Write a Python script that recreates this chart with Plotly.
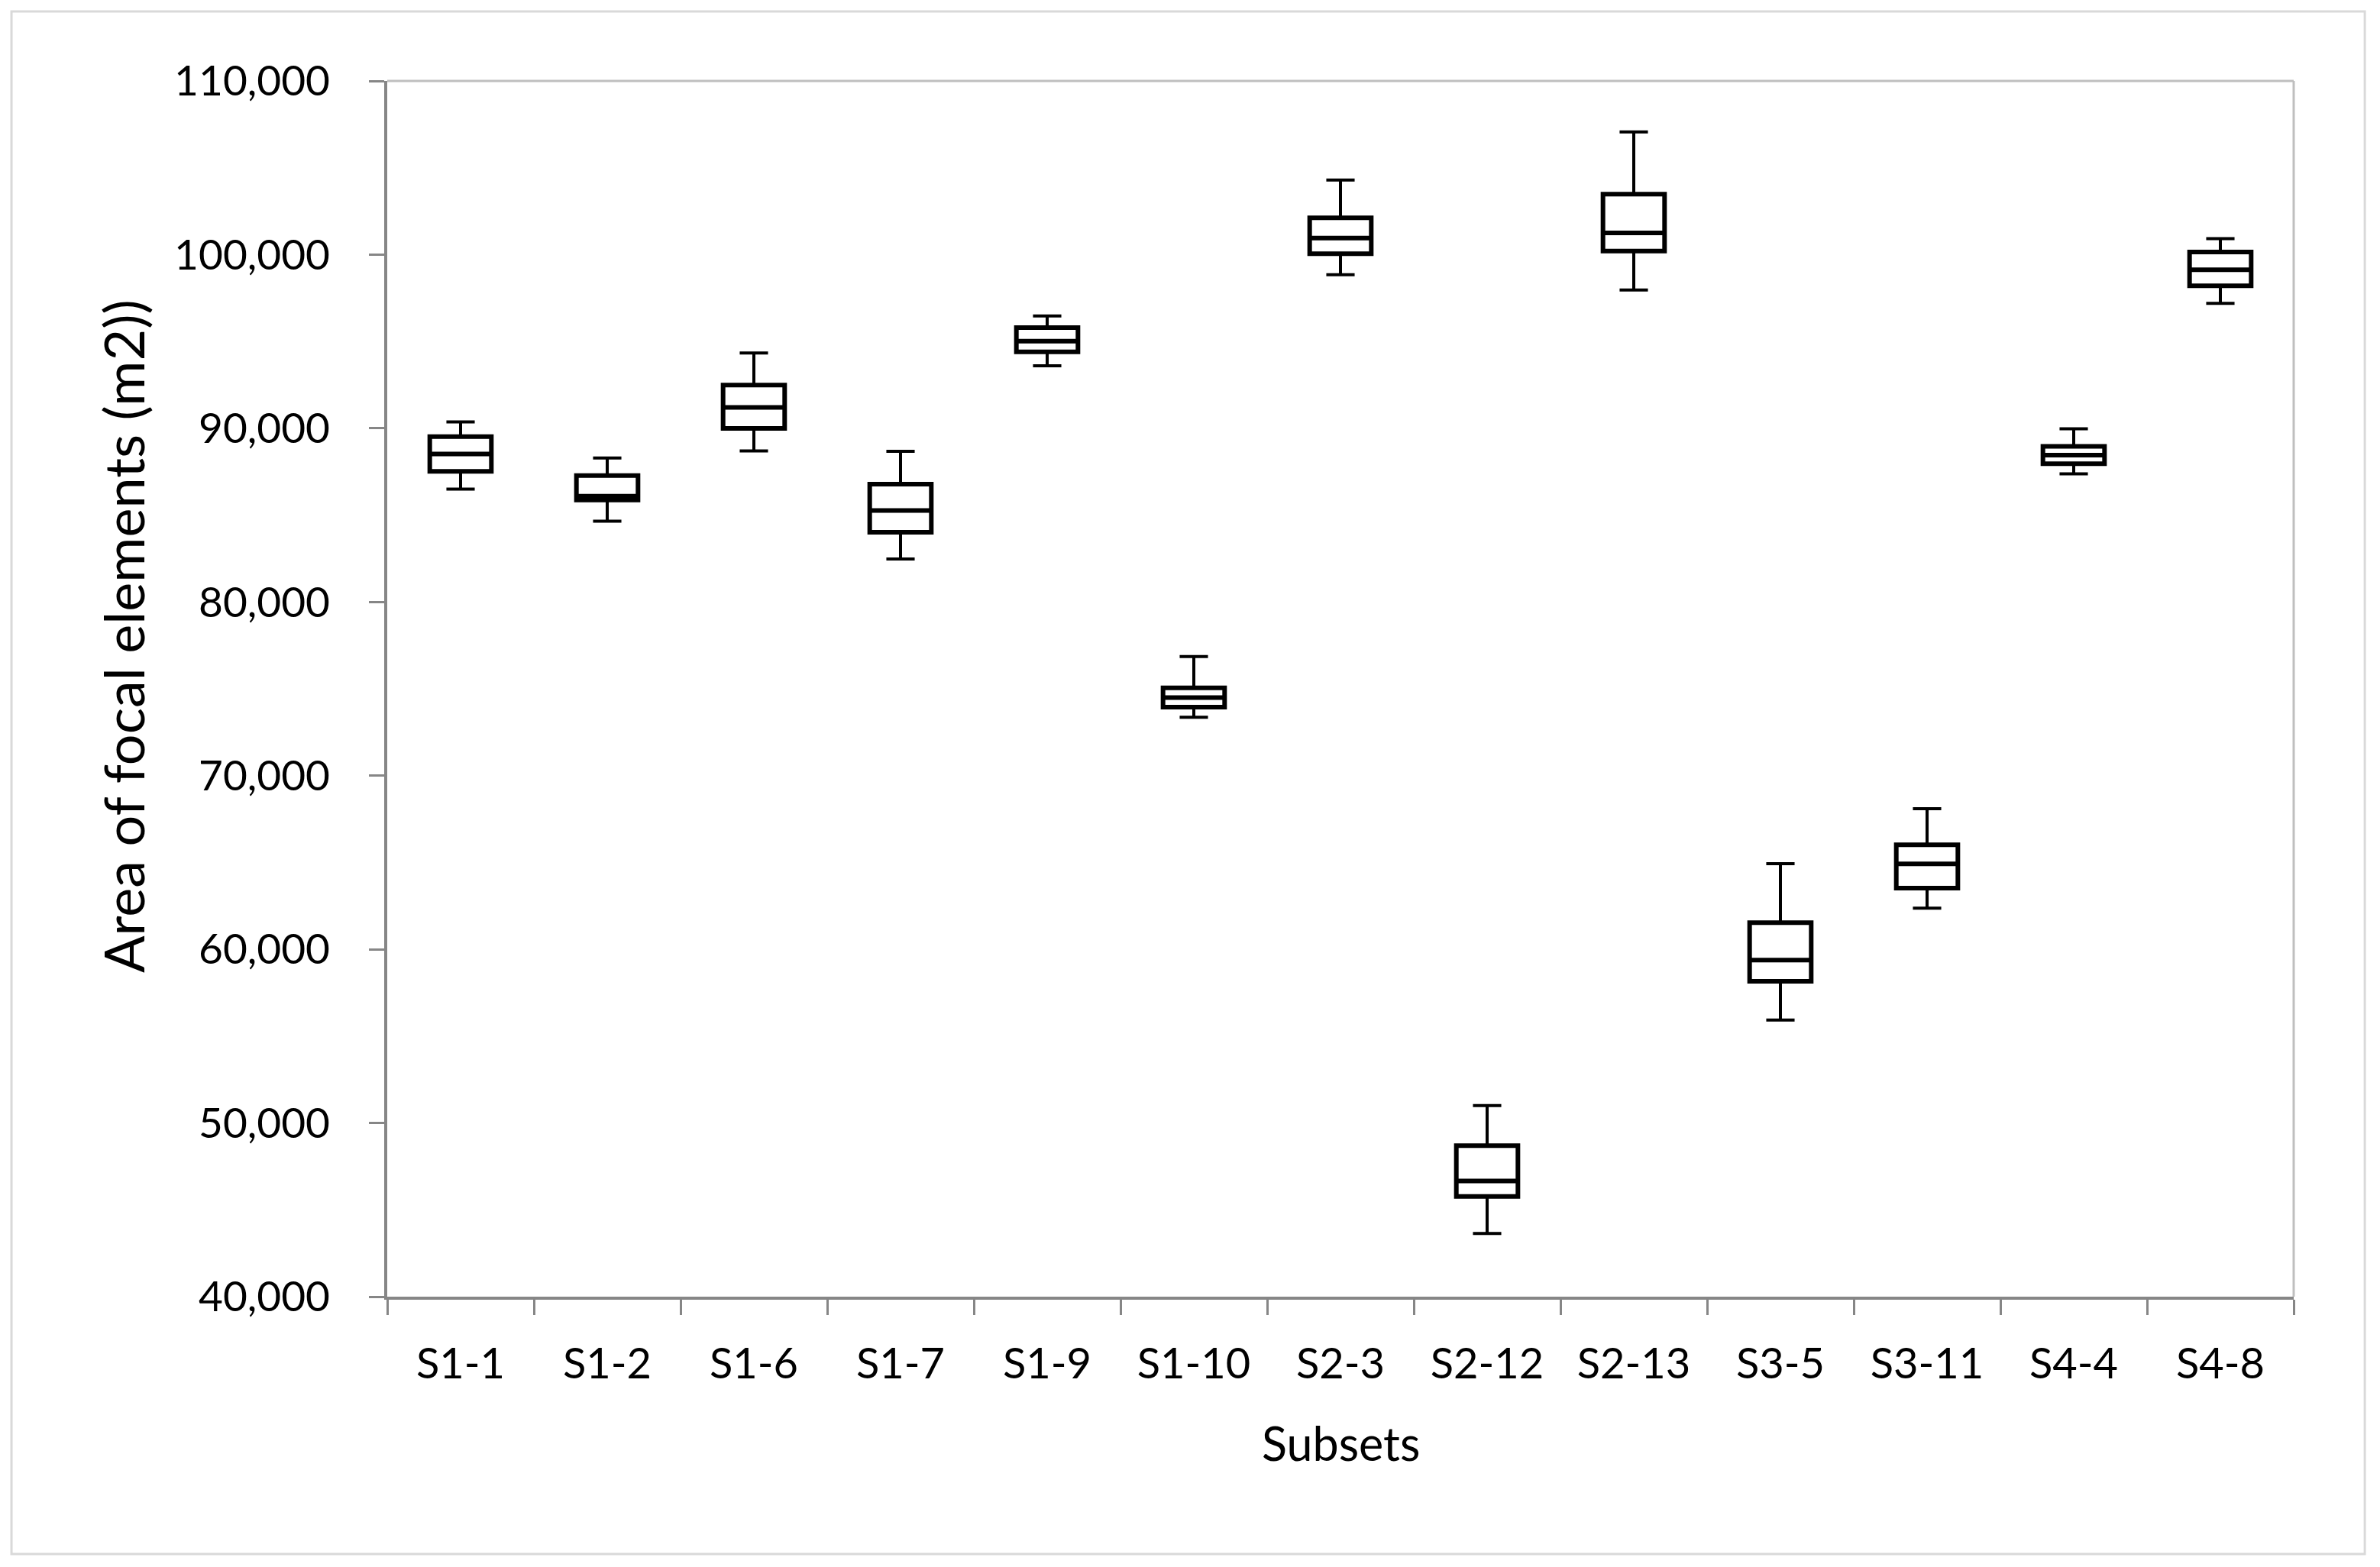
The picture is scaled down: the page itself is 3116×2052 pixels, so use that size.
import plotly.graph_objects as go

subsets = ["S1-1", "S1-2", "S1-6", "S1-7", "S1-9", "S1-10", "S2-3",
           "S2-12", "S2-13", "S3-5", "S3-11", "S4-4", "S4-8"]
lower_whisker = [86500, 84650, 88700, 82470, 93600, 73360, 98840,
                 43640, 97960, 55930, 62370, 87380, 97190]
q1 = [87520, 85870, 89990, 84010, 94400, 73950, 100050,
      45770, 100210, 58160, 63520, 87960, 98210]
median = [88520, 86090, 91200, 85270, 95020, 74490, 100950,
          46660, 101250, 59380, 64920, 88450, 99130]
q3 = [89520, 87280, 92490, 86780, 95800, 75050, 102120,
      48700, 103480, 61530, 66020, 88960, 100150]
upper_whisker = [90370, 88290, 94340, 88680, 96470, 76860, 104290,
                 51000, 107070, 64930, 68100, 89970, 100920]

y_ticks = [40000, 50000, 60000, 70000, 80000, 90000, 100000, 110000]

FONT = "Lato"
AXIS_GRAY = "#868686"

fig = go.Figure()

# whiskers (thin) + box
fig.add_trace(go.Box(
    x=subsets, q1=q1, median=median, q3=q3,
    lowerfence=lower_whisker, upperfence=upper_whisker,
    width=0.42, whiskerwidth=0.46,
    line=dict(color="black", width=4), fillcolor="white",
    boxpoints=False, showlegend=False, hoverinfo="skip",
))
# thicker box outline and median on top
fig.add_trace(go.Box(
    x=subsets, q1=q1, median=median, q3=q3,
    lowerfence=q1, upperfence=q3,
    width=0.42, whiskerwidth=0,
    line=dict(color="black", width=6), fillcolor="rgba(0,0,0,0)",
    boxpoints=False, showlegend=False, hoverinfo="skip",
))

fig.update_layout(
    width=3116, height=2052,
    margin=dict(l=507, r=113, t=106, b=354),
    paper_bgcolor="white", plot_bgcolor="white",
    font=dict(family=FONT, size=55, color="black"),
    boxmode="overlay",
)

fig.update_xaxes(
    type="category", categoryorder="array", categoryarray=subsets,
    range=[-0.5, len(subsets) - 0.5],
    tickson="boundaries", ticks="outside", ticklen=20, tickwidth=3,
    tickcolor=AXIS_GRAY, showline=True, linecolor=AXIS_GRAY, linewidth=4,
    showgrid=False, zeroline=False, ticklabelstandoff=36,
    tickfont=dict(family=FONT, size=56, color="black"),
)
fig.update_yaxes(
    range=[40000, 110000], tickvals=y_ticks, tickformat=",",
    ticks="outside", ticklen=20, tickwidth=3, tickcolor=AXIS_GRAY,
    showline=True, linecolor=AXIS_GRAY, linewidth=4,
    showgrid=False, zeroline=False, ticklabelstandoff=40,
    tickfont=dict(family=FONT, size=55, color="black"),
)

# top and right light border of plot area
fig.add_shape(type="line", xref="paper", yref="paper", x0=0, x1=1, y0=1, y1=1,
              line=dict(color="#BFBFBF", width=3))
fig.add_shape(type="line", xref="paper", yref="paper", x0=1, x1=1, y0=0, y1=1,
              line=dict(color="#BFBFBF", width=3))
# outer chart border
fig.add_shape(type="rect", xref="paper", yref="paper",
              x0=-0.1971, x1=1.0373, y0=-0.2117, y1=1.0572,
              line=dict(color="#D9D9D9", width=3), fillcolor="rgba(0,0,0,0)", layer="below")

fig.add_annotation(text="Area of focal elements (m2))", xref="paper", yref="paper",
                   x=-0.1386, y=0.5433, xanchor="center", yanchor="middle",
                   textangle=-90, showarrow=False,
                   font=dict(family=FONT, size=72, color="black"))
fig.add_annotation(text="Subsets", xref="paper", yref="paper",
                   x=0.5, y=-0.12, xanchor="center", yanchor="middle",
                   showarrow=False, font=dict(family=FONT, size=61, color="black"))

fig.write_html(
    "out.html",
    config={"displayModeBar": False},
    post_script="document.body.style.margin='0';document.body.style.overflow='hidden';",
)
